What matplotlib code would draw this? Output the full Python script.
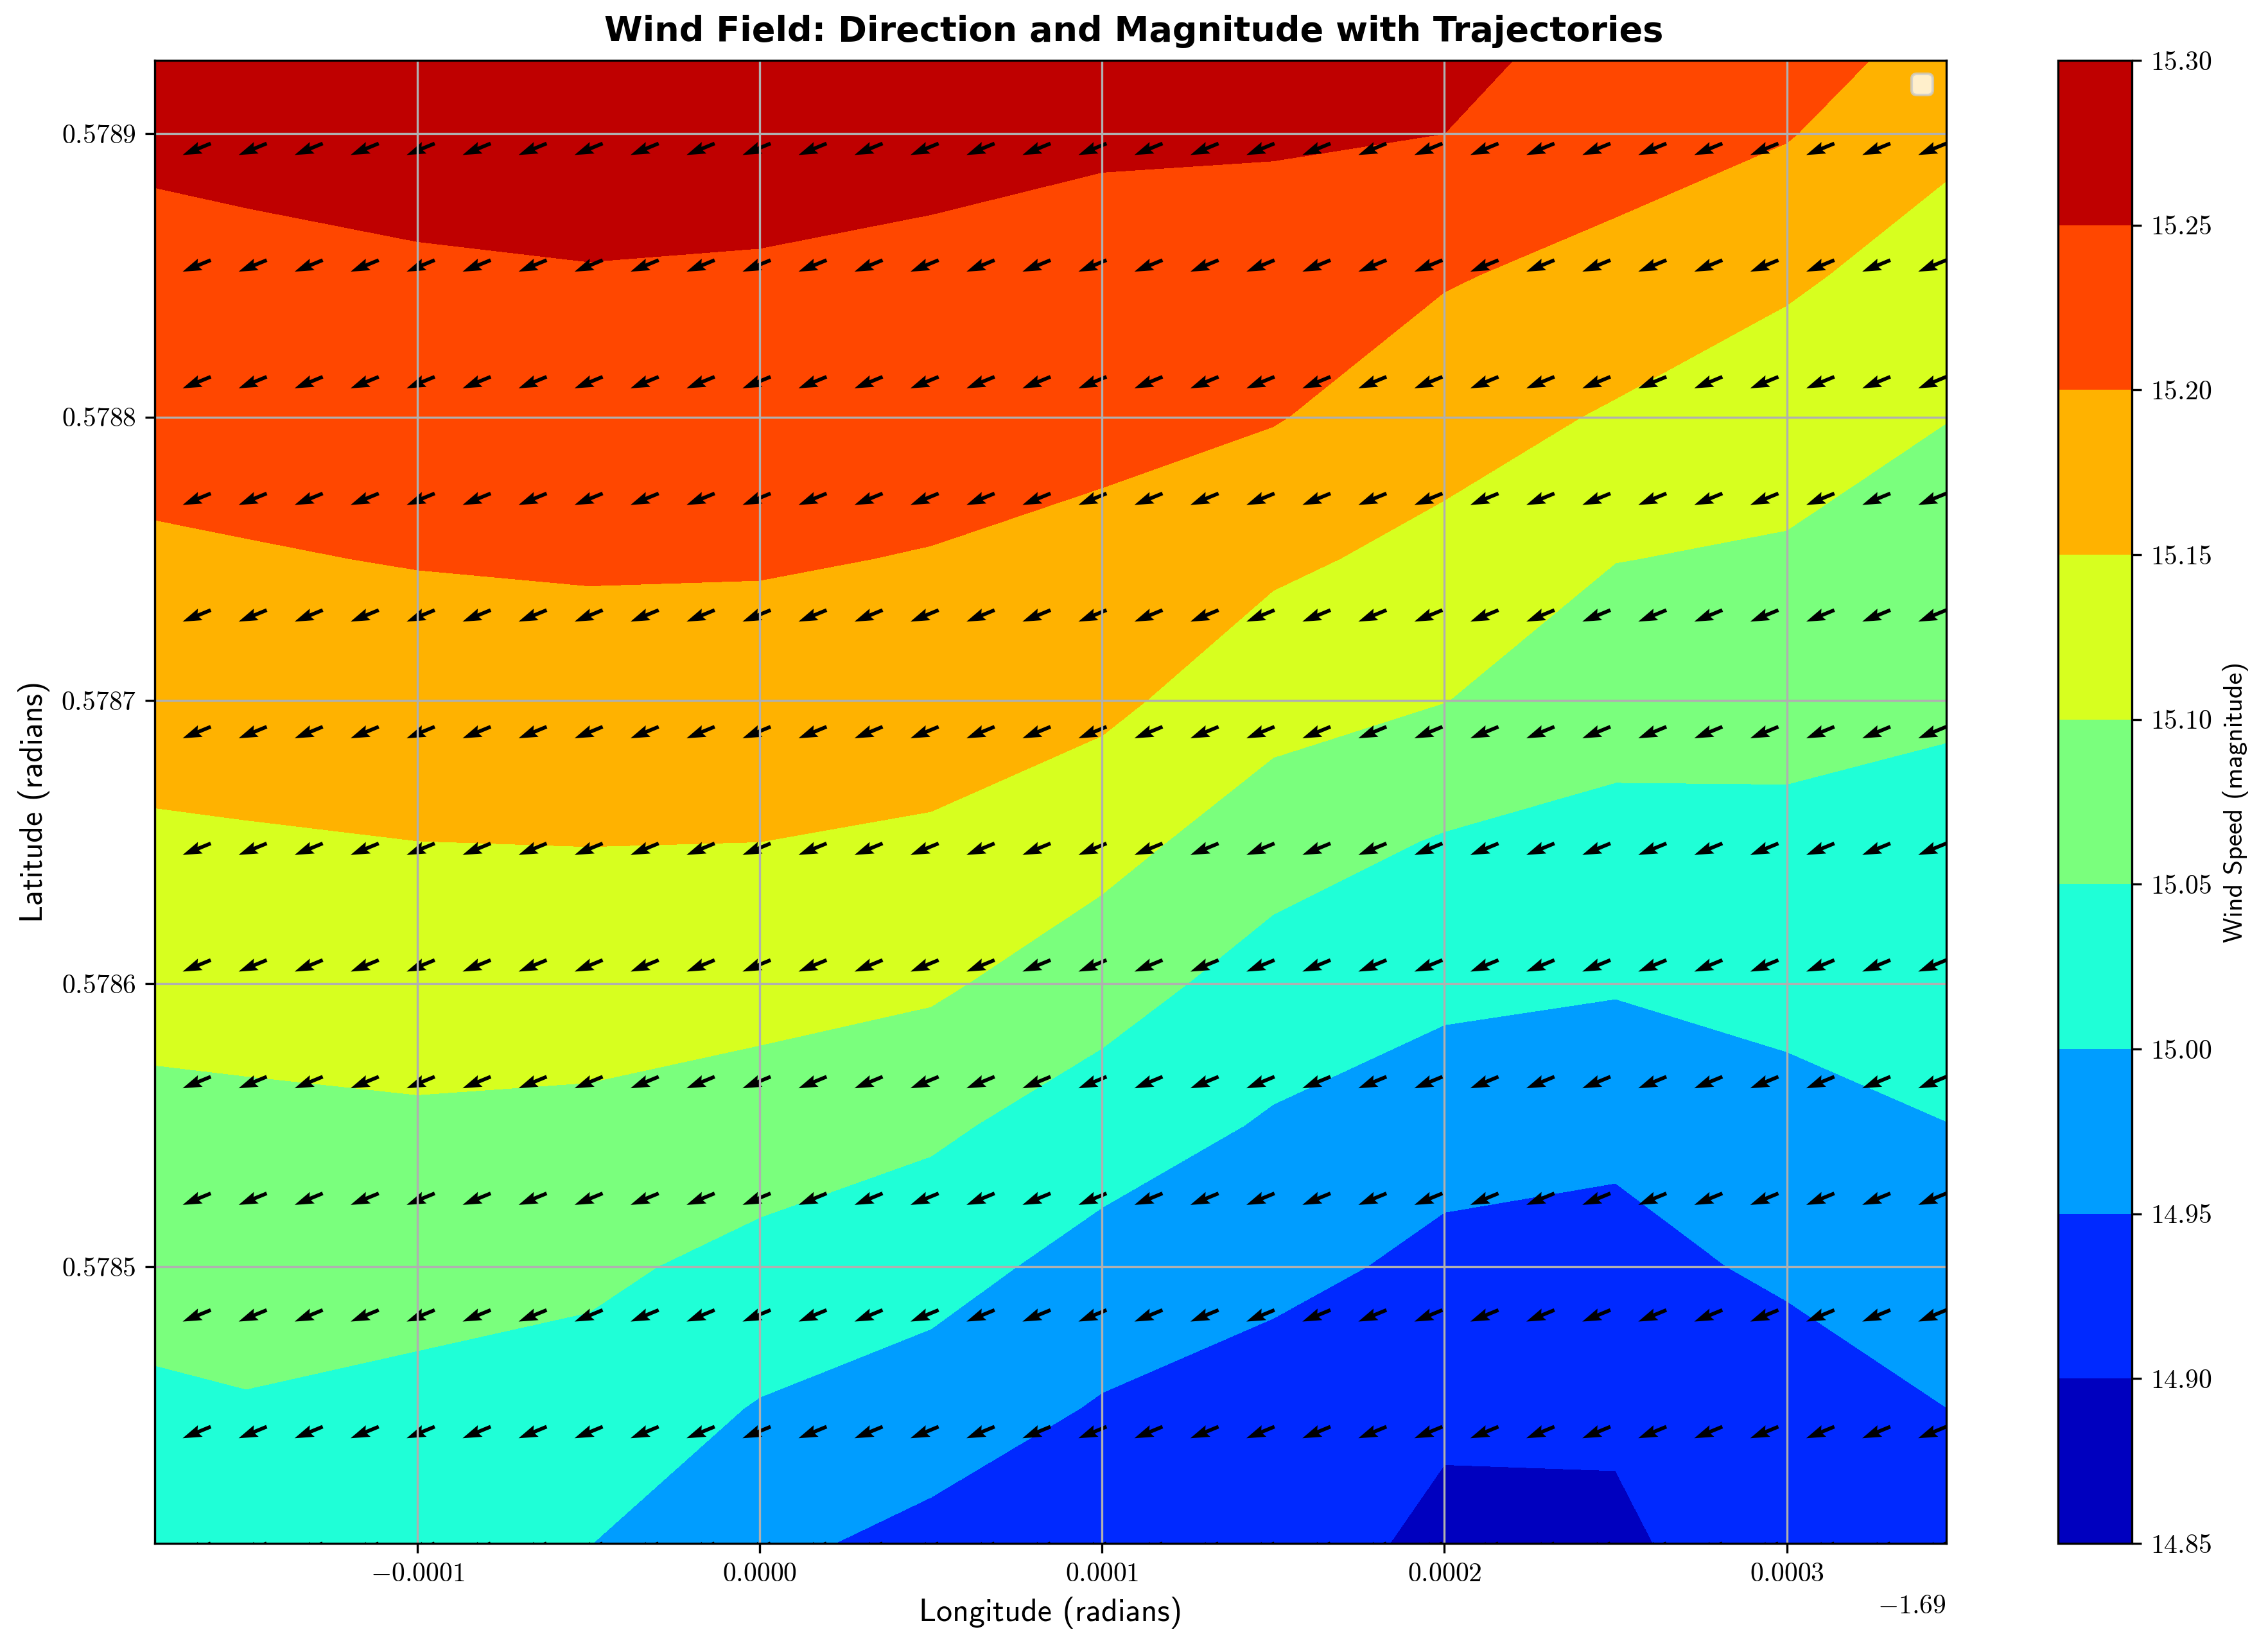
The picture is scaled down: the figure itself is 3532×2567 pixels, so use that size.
import numpy as np
import matplotlib
matplotlib.use("Agg")
import matplotlib.pyplot as plt
from matplotlib.ticker import ScalarFormatter

plt.rcParams.update({
    "font.family": "serif",
    "font.serif": ["cmr10"],
    "mathtext.fontset": "cm",
    "axes.formatter.use_mathtext": True,
    "axes.unicode_minus": True,
})

# ---- data ----
lon = [-1.6901767, -1.69015, -1.6901, -1.69005, -1.69, -1.68995,
       -1.6899, -1.68985, -1.6898, -1.68975, -1.6897, -1.6896534]
lat = [0.5784024, 0.57845, 0.5785, 0.57855, 0.5786, 0.57865,
       0.5787, 0.57875, 0.5788, 0.57885, 0.5789, 0.5789259]

# wind speed (rows = lat, bottom to top; cols = lon, left to right)
speed = [
    [15.021, 15.026, 15.013, 15.001, 14.961, 14.936, 14.911, 14.930, 14.886, 14.893, 14.925, 14.926],
    [15.043, 15.047, 15.039, 15.029, 14.997, 14.977, 14.946, 14.929, 14.910, 14.906, 14.928, 14.9498],
    [15.066, 15.069, 15.066, 15.060, 15.035, 15.018, 14.982, 14.962, 14.940, 14.937, 14.957, 14.975],
    [15.089, 15.091, 15.094, 15.091, 15.078, 15.059, 15.025, 14.995, 14.966, 14.959, 14.986, 14.9995],
    [15.115, 15.117, 15.122, 15.121, 15.117, 15.108, 15.071, 15.029, 15.014, 15.005, 15.013, 15.018],
    [15.144, 15.146, 15.1498, 15.151, 15.150, 15.144, 15.117, 15.072, 15.046, 15.037, 15.039, 15.036],
    [15.169, 15.172, 15.177, 15.179, 15.178, 15.172, 15.161, 15.119, 15.101, 15.068, 15.066, 15.056],
    [15.194, 15.197, 15.202, 15.205, 15.204, 15.198, 15.188, 15.159, 15.136, 15.101, 15.094, 15.078],
    [15.216, 15.218, 15.224, 15.226, 15.225, 15.220, 15.212, 15.203, 15.170, 15.145, 15.124, 15.101],
    [15.237, 15.240, 15.245, 15.248, 15.246, 15.241, 15.234, 15.229, 15.204, 15.184, 15.157, 15.130],
    [15.258, 15.261, 15.266, 15.269, 15.267, 15.262, 15.256, 15.255, 15.250, 15.223, 15.203, 15.160],
    [15.269, 15.272, 15.277, 15.280, 15.278, 15.273, 15.267, 15.269, 15.254, 15.244, 15.227, 15.175],
]

levels = [14.85, 14.90, 14.95, 15.00, 15.05, 15.10, 15.15, 15.20, 15.25, 15.30]

# wind vector components (uniform field)
wind_u = -14.0
wind_v = -5.75
n_quiver_cols = 33
n_quiver_rows = 13
quiver_lat_step = 0.00004118

# ---- figure ----
W, H, DPI = 3532, 2567, 300
fig = plt.figure(figsize=(W / DPI, H / DPI), dpi=DPI)
ax = fig.add_axes([241 / W, 1 - 2404 / H, 2790 / W, 2310 / H])
cax = fig.add_axes([3205 / W, 1 - 2404 / H, 115 / W, 2310 / H])

LON, LAT = np.meshgrid(lon, lat)
cf = ax.contourf(LON, LAT, np.array(speed), levels=levels, cmap="jet")

lon_q = np.linspace(lon[0], lon[-1], n_quiver_cols)
lat_q = lat[0] + np.arange(n_quiver_rows) * quiver_lat_step
LONQ, LATQ = np.meshgrid(lon_q, lat_q)
U = np.full(LONQ.shape, wind_u)
V = np.full(LONQ.shape, wind_v)
ax.quiver(LONQ, LATQ, U, V, units="inches", width=0.019,
          headwidth=3.4, headlength=5.2, headaxislength=4.6,
          scale_units="inches", scale=96, color="black")

ax.set_xlim(lon[0], lon[-1])
ax.set_ylim(lat[0], lat[-1])
ax.grid(True)

xf = ScalarFormatter(useOffset=-1.69, useMathText=True)
ax.xaxis.set_major_formatter(xf)
yf = ScalarFormatter(useOffset=False, useMathText=True)
ax.yaxis.set_major_formatter(yf)
ax.set_xticks([-1.6901, -1.69, -1.6899, -1.6898, -1.6897])
ax.set_yticks([0.5785, 0.5786, 0.5787, 0.5788, 0.5789])
ax.tick_params(labelsize=10)

fig.suptitle("Wind Field: Direction and Magnitude with Trajectories",
             family="DejaVu Sans", fontweight="bold", fontsize=13,
             x=0.5, y=0.991, va="top")
ax.set_xlabel("Longitude (radians)", family="cmss10", fontsize=12)
ax.set_ylabel("Latitude (radians)", family="cmss10", fontsize=12)
ax.legend(loc="upper right")

cb = fig.colorbar(cf, cax=cax)
cb.set_ticks(levels)
cb.ax.tick_params(labelsize=10)
cb.set_label("Wind Speed (magnitude)", family="cmss10", fontsize=10)

fig.savefig("out.png", dpi=DPI)
